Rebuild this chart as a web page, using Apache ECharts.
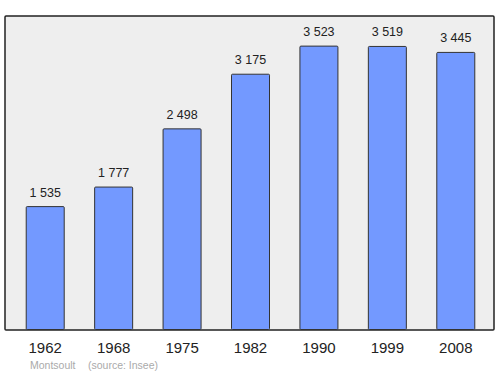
<!DOCTYPE html>
<html><head><meta charset="utf-8">
<script src="https://cdn.jsdelivr.net/npm/echarts@6/dist/echarts.min.js"></script>
<style>html,body{margin:0;padding:0;background:#fff}#c{width:500px;height:374px}</style>
</head><body><div id="c"></div>
<script>
const years = ['1962','1968','1975','1982','1990','1999','2008'];
const population = [1535, 1777, 2498, 3175, 3523, 3519, 3445];
const place = 'Montsoult';
const source = '(source: Insee)';

const chart = echarts.init(document.getElementById('c'), null, {renderer:'svg'});
chart.setOption({
  animation: false,
  graphic: [
    {type:'rect', z:-10, shape:{x:5, y:16, width:489, height:314, r:1},
     style:{fill:'#eeeeee', stroke:'#222222', lineWidth:1.5}},
    {type:'text', left:30, top:359, style:{text:place, fill:'#aaaaaa', font:'10.5px "Liberation Sans", Arial, sans-serif'}},
    {type:'text', left:88, top:359, style:{text:source, fill:'#aaaaaa', font:'10.5px "Liberation Sans", Arial, sans-serif'}}
  ],
  grid: {left:11, right:10, top:16, bottom:44},
  xAxis: {
    type:'category', data: years,
    axisLine:{show:false}, axisTick:{show:false},
    axisLabel:{color:'#222', fontSize:15, margin:10, fontFamily:'"Liberation Sans", Arial, sans-serif'}
  },
  yAxis: {type:'value', min:0, max:3890, show:false, splitLine:{show:false}},
  series: [{
    type:'bar', data: population, barWidth:39,
    itemStyle:{color:'#7399ff', borderColor:'#333', borderWidth:1, borderRadius:1},
    label:{show:true, position:'top', distance:7, color:'#222', fontSize:12.5,
      fontFamily:'"Liberation Sans", Arial, sans-serif',
      formatter: p => String(p.value).replace(/\B(?=(\d{3})+(?!\d))/g, ' ')}
  }]
});
</script></body></html>
